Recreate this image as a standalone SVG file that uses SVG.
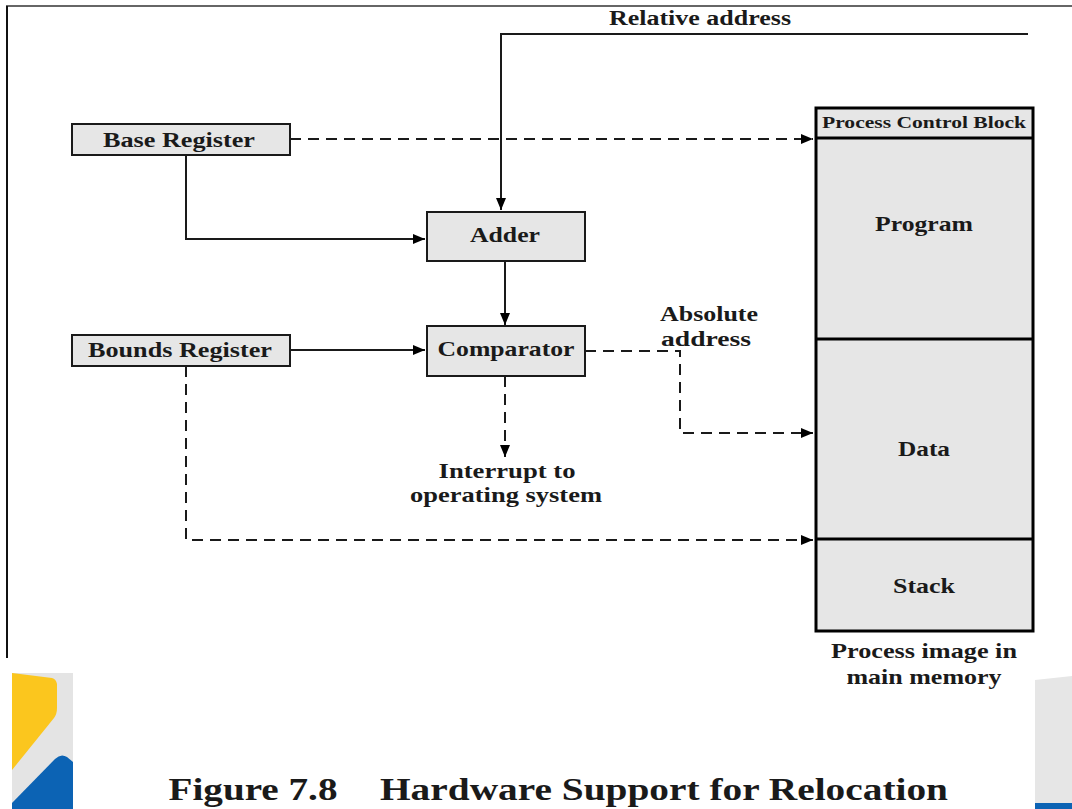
<svg xmlns="http://www.w3.org/2000/svg" width="1072" height="809" viewBox="0 0 1072 809">
<style>
.box{fill:#e6e6e6;stroke:#1a1a1a;stroke-width:2}
.mem{fill:#e6e6e6;stroke:#000;stroke-width:3}
.t{font-family:"Liberation Serif","Times New Roman",serif;font-weight:bold;fill:#1a1a1a;text-anchor:middle}
.s{fill:none;stroke:#1a1a1a;stroke-width:2}
.d{fill:none;stroke:#1a1a1a;stroke-width:2;stroke-dasharray:11 7}
</style>
<defs>
<marker id="ah" viewBox="0 0 12 10" refX="12" refY="5" markerWidth="12" markerHeight="10" markerUnits="userSpaceOnUse" orient="auto">
<path d="M0,0 L12,5 L0,10 Z" fill="#000"/>
</marker>
</defs>
<rect width="1072" height="809" fill="#fff"/>
<g id="frame">
<path d="M7,658 V6 H1072" fill="none" stroke="#666" stroke-width="2"/>
<line x1="7" y1="6" x2="7" y2="658" stroke="#111" stroke-width="2"/>
</g>
<g id="decor-left">
<rect x="12" y="673" width="61" height="136" fill="#e4e4e4"/>
<path d="M12,673 L52,678 Q56,679 57,684 L57,708 Q57,714 54,718 L12,770 Z" fill="#fbc61e"/>
<path d="M12,803 L55,759 Q61,753 67,757 L73,762 L73,809 L12,809 Z" fill="#0c63b4"/>
</g>
<g id="decor-right">
<path d="M1035,680 L1072,676 L1072,803 L1035,803 Z" fill="#e6e6e6"/>
<rect x="1035" y="803" width="37" height="6" fill="#0c63b4"/>
</g>
<g id="connectors">
<path class="s" d="M1028,34 H501 V210" marker-end="url(#ah)"/>
<path class="s" d="M186,155 V239 H425" marker-end="url(#ah)"/>
<path class="s" d="M505,261 V325" marker-end="url(#ah)"/>
<path class="s" d="M290,350 H425" marker-end="url(#ah)"/>
<path class="d" d="M290,139 H813" marker-end="url(#ah)"/>
<path class="d" d="M585,351 H680 V433 H813" marker-end="url(#ah)"/>
<path class="d" d="M186,366 V540 H813" marker-end="url(#ah)"/>
<path class="d" d="M505,376 V457" marker-end="url(#ah)"/>
</g>
<text class="t" x="700" y="25" font-size="20" textLength="182" lengthAdjust="spacingAndGlyphs">Relative address</text>
<g id="base-register">
<rect class="box" x="72" y="124" width="218" height="31"/>
<text class="t" x="179" y="147" font-size="21" textLength="152" lengthAdjust="spacingAndGlyphs">Base Register</text>
</g>
<g id="bounds-register">
<rect class="box" x="72" y="335" width="218" height="31"/>
<text class="t" x="180" y="357" font-size="21" textLength="184" lengthAdjust="spacingAndGlyphs">Bounds Register</text>
</g>
<g id="adder">
<rect class="box" x="427" y="212" width="158" height="49"/>
<text class="t" x="505" y="242" font-size="21" textLength="70" lengthAdjust="spacingAndGlyphs">Adder</text>
</g>
<g id="comparator">
<rect class="box" x="427" y="326" width="158" height="50"/>
<text class="t" x="506" y="356" font-size="21" textLength="137" lengthAdjust="spacingAndGlyphs">Comparator</text>
</g>
<g id="absolute-label">
<text class="t" x="709" y="321" font-size="20" textLength="98" lengthAdjust="spacingAndGlyphs">Absolute</text>
<text class="t" x="706" y="346" font-size="20" textLength="90" lengthAdjust="spacingAndGlyphs">address</text>
</g>
<g id="interrupt-label">
<text class="t" x="507" y="478" font-size="21" textLength="137" lengthAdjust="spacingAndGlyphs">Interrupt to</text>
<text class="t" x="506" y="502" font-size="21" textLength="192" lengthAdjust="spacingAndGlyphs">operating system</text>
</g>
<g id="process-image">
<rect class="mem" x="816" y="108" width="217" height="523"/>
<line x1="816" y1="138" x2="1033" y2="138" stroke="#000" stroke-width="3"/>
<line x1="816" y1="339" x2="1033" y2="339" stroke="#000" stroke-width="3"/>
<line x1="816" y1="539" x2="1033" y2="539" stroke="#000" stroke-width="3"/>
<text class="t" x="924" y="128" font-size="16" textLength="204" lengthAdjust="spacingAndGlyphs">Process Control Block</text>
<text class="t" x="924" y="231" font-size="21" textLength="98" lengthAdjust="spacingAndGlyphs">Program</text>
<text class="t" x="924" y="456" font-size="21" textLength="52" lengthAdjust="spacingAndGlyphs">Data</text>
<text class="t" x="924" y="593" font-size="21" textLength="62" lengthAdjust="spacingAndGlyphs">Stack</text>
<text class="t" x="924" y="658" font-size="21" textLength="186" lengthAdjust="spacingAndGlyphs">Process image in</text>
<text class="t" x="924" y="684" font-size="21" textLength="155" lengthAdjust="spacingAndGlyphs">main memory</text>
</g>
<g id="caption">
<text class="t" x="253" y="800" font-size="32" textLength="169" lengthAdjust="spacingAndGlyphs">Figure 7.8</text>
<text class="t" x="664" y="800" font-size="32" textLength="568" lengthAdjust="spacingAndGlyphs">Hardware Support for Relocation</text>
</g>
</svg>
